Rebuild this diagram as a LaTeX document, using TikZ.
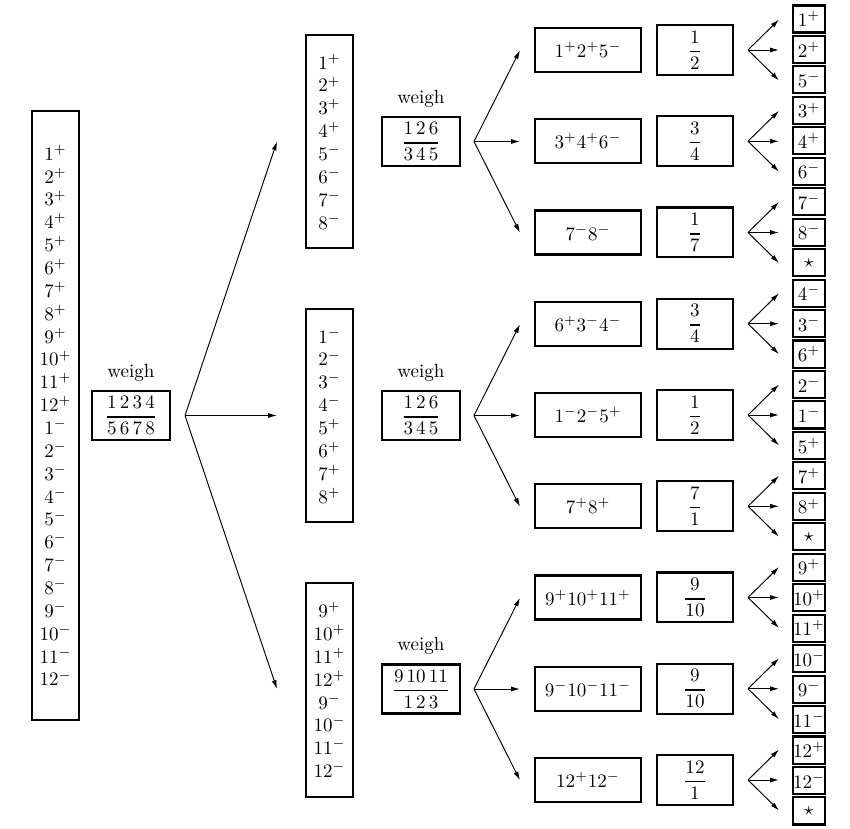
\documentclass[tikz,border=0pt]{standalone}
\usepackage{amsmath}
\usetikzlibrary{arrows.meta}
\newcommand\zw[1]{\makebox[0pt]{#1}}
\newcommand\fr[2]{\genfrac{}{}{0.8pt}{0}{#1}{#2}}
\begin{document}
\begin{tikzpicture}[x=0.525pt,y=-0.525pt,
  box/.style={draw, line width=1.1pt, inner sep=0pt, align=center},
  colbox/.style={box, minimum width=24.7pt},
  wbox/.style={box, minimum width=40.5pt, minimum height=25.7pt},
  tbox/.style={box, minimum width=55.7pt, minimum height=23.1pt},
  fbox/.style={box, minimum width=39.9pt, minimum height=26.2pt},
  sbox/.style={box, minimum width=16.8pt, minimum height=14.2pt},
  arr/.style={-{Latex[length=4.6pt,width=2.6pt]}, line width=0.5pt}]
\useasboundingbox (0,0) rectangle (850,829);

% first column
\node[colbox, minimum height=319.7pt] (L) at (55.5,415.5)
 {$1^+$\\$2^+$\\$3^+$\\$4^+$\\$5^+$\\$6^+$\\$7^+$\\$8^+$\\$9^+$\\$10^+$\\$11^+$\\$12^+$\\
  $1^-$\\$2^-$\\$3^-$\\$4^-$\\$5^-$\\$6^-$\\$7^-$\\$8^-$\\$9^-$\\$10^-$\\$11^-$\\$12^-$};
\node[wbox] (W) at (131,415.5) {$\fr{1\,2\,3\,4}{5\,6\,7\,8}$};
\node (WL) at (131,373) {weigh};

% second column
\node[colbox, minimum height=111.8pt] (M0) at (329.5,141.5)
 {$1^+$\\$2^+$\\$3^+$\\$4^+$\\$5^-$\\$6^-$\\$7^-$\\$8^-$};
\node[colbox, minimum height=111.8pt] (M1) at (329.5,415.5)
 {$1^-$\\$2^-$\\$3^-$\\$4^-$\\$5^+$\\$6^+$\\$7^+$\\$8^+$};
\node[colbox, minimum height=112.3pt] (M2) at (329.5,690)
 {$9^+$\\$10^+$\\$11^+$\\$12^+$\\$9^-$\\$10^-$\\$11^-$\\$12^-$};

\node[wbox] (V0) at (421,141.5) {$\fr{1\,2\,6}{3\,4\,5}$};
\node[wbox] (V1) at (421,415.5) {$\fr{1\,2\,6}{3\,4\,5}$};
\node[wbox] (V2) at (421,689) {$\fr{9\,10\,11}{1\,2\,3}$};
\node (VL0) at (421,99) {weigh};
\node (VL1) at (421,373) {weigh};
\node (VL2) at (421,646) {weigh};

% first arrows
\coordinate (a0) at (185,415.5);
\coordinate (b0) at (277,141.5);
\coordinate (b1) at (277,415.5);
\coordinate (b2) at (277,689);
\foreach \k in {0,1,2} {\draw[arr] (a0) -- (b\k);}

% second arrows
\foreach \k/\c in {0/141.5,1/415.5,2/689} {
  \coordinate (c\k) at (474,\c);
  \coordinate (d\k a) at (520,\c-91.25);
  \coordinate (d\k b) at (520,\c);
  \coordinate (d\k c) at (520,\c+91.25);
  \draw[arr] (c\k) -- (d\k a);
  \draw[arr] (c\k) -- (d\k b);
  \draw[arr] (c\k) -- (d\k c);
}

% third column
\foreach \t [count=\j from 0] in {{$1^+2^+5^-$},{$3^+4^+6^-$},{$7^-8^-$},
   {$6^+3^-4^-$},{$1^-2^-5^+$},{$7^+8^+$},
   {$9^+10^+11^+$},{$9^-10^-11^-$},{$12^+12^-$}} {
  \node[tbox] (T\j) at (588,50+91.25*\j) {\t};
}
\foreach \n/\d [count=\j from 0] in {1/2,3/4,1/7,3/4,1/2,7/1,9/10,9/10,12/1} {
  \node[fbox] (F\j) at (695,50+91.25*\j) {$\fr{\n}{\d}$};
}

% small boxes
\foreach \t [count=\i from 0] in {$1^+$,$2^+$,$5^-$,$3^+$,$4^+$,$6^-$,$7^-$,$8^-$,$\star$,
   $4^-$,$3^-$,$6^+$,$2^-$,$1^-$,$5^+$,$7^+$,$8^+$,$\star$,
   $9^+$,$10^+$,$11^+$,$10^-$,$9^-$,$11^-$,$12^+$,$12^-$,$\star$} {
  \node[sbox] (S\i) at (809,19+30.46*\i) {\zw{\t}};
}

% third arrows
\foreach \j in {0,...,8} {
  \coordinate (p\j) at (748,50+91.25*\j);
  \coordinate (q\j a) at (779,50+91.25*\j-30.46);
  \coordinate (q\j b) at (779,50+91.25*\j);
  \coordinate (q\j c) at (779,50+91.25*\j+30.46);
  \draw[arr] (p\j) -- (q\j a);
  \draw[arr] (p\j) -- (q\j b);
  \draw[arr] (p\j) -- (q\j c);
}
\end{tikzpicture}
\end{document}
